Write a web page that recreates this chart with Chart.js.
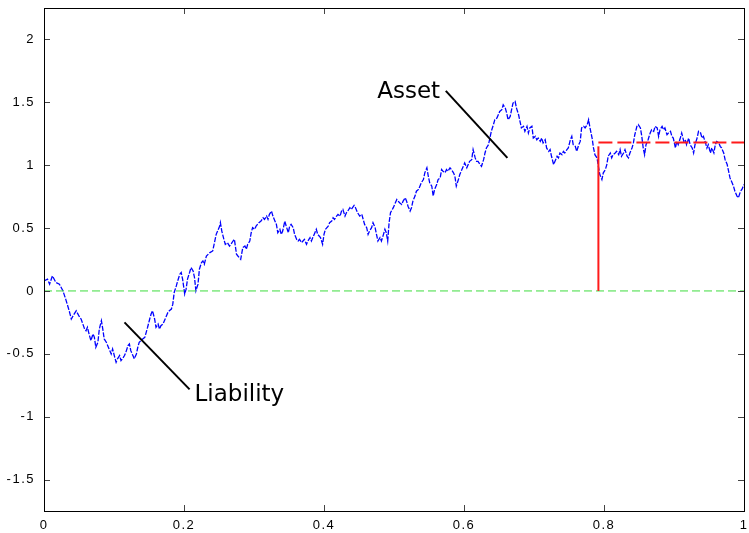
<!DOCTYPE html>
<html>
<head>
<meta charset="utf-8">
<script src="https://cdn.jsdelivr.net/npm/chart.js@4/dist/chart.umd.min.js"></script>
<style>
  html, body { margin: 0; padding: 0; background: #fff; }
  canvas { display: block; }
</style>
</head>
<body>
<canvas id="chart" width="749" height="533"></canvas>
<script>
// Asset value path, sampled as [time, value] pairs
const assetPathA = [
  [0.000,0.080],[0.005,0.094],[0.008,0.054],[0.012,0.120],[0.017,0.067],[0.022,0.054],[0.027,0.001],[0.031,-0.065],
  [0.036,-0.158],[0.039,-0.223],[0.043,-0.184],[0.046,-0.158],[0.051,-0.210],[0.053,-0.223],[0.058,-0.303],[0.060,-0.316],
  [0.062,-0.289],[0.065,-0.356],[0.067,-0.395],[0.070,-0.342],[0.072,-0.369],[0.074,-0.448],[0.077,-0.408],[0.079,-0.303],
  [0.082,-0.237],[0.084,-0.303],[0.086,-0.382],[0.089,-0.408],[0.093,-0.461],[0.096,-0.501],[0.098,-0.461],[0.101,-0.527],
  [0.103,-0.567],[0.105,-0.540],[0.108,-0.514],[0.110,-0.554],[0.112,-0.540],[0.115,-0.514],[0.117,-0.487],[0.120,-0.435],
  [0.122,-0.422],[0.124,-0.475],[0.127,-0.514],[0.129,-0.540],[0.132,-0.501],[0.134,-0.448],[0.136,-0.408],[0.141,-0.382],
  [0.144,-0.369],[0.146,-0.329],[0.148,-0.289],[0.151,-0.223],[0.153,-0.184],[0.155,-0.158],[0.158,-0.223],[0.160,-0.289],
  [0.163,-0.263],[0.165,-0.303],[0.167,-0.276],[0.170,-0.263],[0.172,-0.237],[0.175,-0.197],[0.177,-0.171],[0.179,-0.158],
  [0.182,-0.144],[0.184,-0.105],[0.186,-0.012],[0.189,0.040],[0.191,0.080],[0.194,0.133],[0.196,0.147],[0.198,0.094],
  [0.201,-0.025],[0.203,0.014],[0.205,0.094],[0.208,0.147],[0.210,0.186],[0.213,0.159],[0.215,0.107],[0.217,0.001],
  [0.220,0.054],[0.222,0.173],[0.225,0.226],[0.227,0.239],[0.229,0.212],[0.232,0.278],[0.237,0.305],[0.241,0.318]
];
const assetPathB = [
  [0.246,0.450],[0.248,0.476],[0.251,0.516],[0.252,0.543],[0.254,0.476],[0.257,0.410],[0.259,0.371],[0.262,0.384],
  [0.265,0.357],[0.267,0.371],[0.270,0.397],[0.272,0.410],[0.275,0.292],[0.277,0.278],[0.281,0.252],[0.284,0.345],
  [0.287,0.357],[0.289,0.331],[0.291,0.371],[0.294,0.397],[0.296,0.463],[0.298,0.503],[0.301,0.490],[0.303,0.516],
  [0.307,0.543],[0.310,0.555],[0.313,0.582],[0.315,0.569],[0.318,0.595],[0.320,0.569],[0.322,0.609],[0.325,0.635],
  [0.327,0.595],[0.330,0.555],[0.332,0.529],[0.334,0.463],[0.337,0.490],[0.339,0.450],[0.341,0.476],[0.344,0.555],
  [0.346,0.516],[0.349,0.463],[0.351,0.516],[0.353,0.529],[0.356,0.503],[0.358,0.450],[0.361,0.410],[0.363,0.397],
  [0.365,0.410],[0.368,0.384],[0.370,0.397],[0.372,0.410],[0.375,0.371],[0.377,0.397],[0.380,0.424],[0.382,0.397],
  [0.384,0.424],[0.387,0.463],[0.389,0.490],[0.391,0.450],[0.395,0.424],[0.398,0.371],[0.400,0.450],[0.402,0.490],
  [0.406,0.516],[0.408,0.543],[0.411,0.555],[0.413,0.582],[0.415,0.569],[0.418,0.595],[0.420,0.609],[0.423,0.595],
  [0.425,0.635],[0.427,0.648],[0.430,0.595],[0.432,0.622],[0.434,0.635],[0.437,0.662],[0.439,0.648],[0.443,0.680],
  [0.445,0.662],[0.448,0.622],[0.451,0.595],[0.454,0.609],[0.456,0.569],[0.458,0.529],[0.461,0.503],[0.463,0.450],
  [0.465,0.476],[0.468,0.503],[0.470,0.543],[0.473,0.503],[0.475,0.450],[0.477,0.397],[0.480,0.424],[0.482,0.397],
  [0.485,0.450],[0.487,0.490],[0.489,0.463],[0.491,0.397],[0.493,0.543],[0.495,0.622],[0.499,0.662],[0.501,0.688],
  [0.504,0.727]
];
const assetPathC = [
  [0.508,0.701],[0.511,0.688],[0.513,0.714],[0.516,0.741],[0.518,0.714],[0.520,0.674],[0.523,0.635],[0.525,0.662],
  [0.527,0.714],[0.530,0.754],[0.532,0.793],[0.535,0.807],[0.537,0.833],[0.539,0.860],[0.542,0.886],[0.544,0.939],
  [0.547,0.979],[0.549,0.912],[0.551,0.860],[0.554,0.833],[0.556,0.754],[0.558,0.807],[0.561,0.846],[0.563,0.886],
  [0.566,0.899],[0.568,0.965],[0.570,0.952],[0.573,0.939],[0.575,0.965],[0.577,0.952],[0.580,0.979],[0.582,0.965],
  [0.585,0.939],[0.587,0.912],[0.589,0.833],[0.592,0.886],[0.594,0.926],[0.597,0.965],[0.599,0.991],[0.601,1.018],
  [0.604,0.979],[0.606,1.005],[0.608,1.031],[0.611,1.044],[0.613,1.124],[0.616,1.058],[0.618,1.031],[0.620,1.031],
  [0.623,1.005],[0.625,0.991],[0.628,1.044],[0.630,1.097],[0.632,1.137],[0.635,1.163],[0.637,1.216],[0.639,1.269],
  [0.642,1.322],[0.644,1.361],[0.647,1.375],[0.649,1.401],[0.651,1.427],[0.654,1.441],[0.656,1.480],[0.659,1.454],
  [0.661,1.414],[0.663,1.361],[0.666,1.388],[0.668,1.441],[0.670,1.494],[0.673,1.507],[0.675,1.454],[0.678,1.401],
  [0.680,1.348],[0.682,1.296],[0.685,1.309],[0.687,1.269],[0.690,1.309],[0.692,1.256],[0.694,1.296],[0.697,1.309],
  [0.699,1.216],[0.702,1.229],[0.704,1.203],[0.706,1.216],[0.709,1.189],[0.711,1.216],[0.713,1.177],[0.716,1.203],
  [0.718,1.137],[0.721,1.110],[0.723,1.124],[0.725,1.071],[0.728,1.005],[0.730,1.031],[0.733,1.071],[0.735,1.058],
  [0.737,1.097],[0.740,1.084],[0.742,1.110],[0.744,1.097],[0.747,1.124],[0.749,1.137],[0.752,1.203],[0.754,1.229],
  [0.756,1.163],[0.759,1.150],[0.761,1.110],[0.764,1.163],[0.766,1.189]
];
const assetPathD = [
  [0.768,1.296],[0.771,1.309],[0.773,1.296],[0.776,1.322],[0.778,1.361],[0.780,1.296],[0.783,1.216],[0.785,1.137],
  [0.787,1.084],[0.790,1.058],[0.792,0.991],[0.794,0.926],[0.797,0.886],[0.799,0.939],[0.802,0.965],[0.804,1.005],
  [0.806,1.071],[0.809,1.097],[0.811,1.058],[0.813,1.084],[0.816,1.097],[0.818,1.110],[0.821,1.084],[0.823,1.124],
  [0.825,1.071],[0.828,1.097],[0.830,1.124],[0.833,1.071],[0.835,1.058],[0.837,1.097],[0.840,1.137],[0.842,1.177],
  [0.844,1.242],[0.847,1.309],[0.849,1.322],[0.852,1.296],[0.854,1.229],[0.856,1.137],[0.858,1.084],[0.860,1.163],
  [0.863,1.203],[0.866,1.256],[0.868,1.282],[0.871,1.269],[0.873,1.309],[0.876,1.296],[0.878,1.229],[0.880,1.282],
  [0.883,1.309],[0.885,1.282],[0.887,1.296],[0.890,1.242],[0.892,1.256],[0.895,1.269],[0.897,1.229],[0.899,1.216],
  [0.902,1.137],[0.904,1.189],[0.906,1.163],[0.909,1.216],[0.911,1.256],[0.914,1.189],[0.916,1.203],[0.918,1.163],
  [0.921,1.216],[0.923,1.163],[0.926,1.137],[0.928,1.097],[0.930,1.163],[0.933,1.216],[0.935,1.269],[0.938,1.256],
  [0.940,1.216],[0.942,1.229],[0.945,1.177],[0.947,1.137],[0.949,1.163],[0.952,1.097],[0.954,1.137],[0.957,1.097],
  [0.959,1.163],[0.961,1.189],[0.964,1.177],[0.966,1.150],[0.968,1.137],[0.971,1.097],[0.973,1.044],[0.976,1.005],
  [0.978,0.952],[0.980,0.899],[0.983,0.860],[0.985,0.833],[0.987,0.793],[0.990,0.754],[0.992,0.741],[0.995,0.793],
  [0.997,0.807],[1.000,0.846]
];

// Liability level, the time it is reached, and the zero baseline
const liabilityLevel = 1.18;
const hittingTime = 0.792;
const hittingMark = 1.15;
const baselineLevel = 0;

// Axis ranges and tick values
const xRange = [0, 1];
const yRange = [-1.75, 2.25];
const xTicks = [0, 0.2, 0.4, 0.6, 0.8, 1];
const yTicks = [-1.5, -1, -0.5, 0, 0.5, 1, 1.5, 2];

// Callout texts, anchors and leader lines, in data coordinates
const calloutTexts = ['Asset', 'Liability'];
const calloutAnchors = [[0.476, 1.532], [0.215, -0.872]];
const calloutLeaders = [
  [[0.574, 1.591], [0.662, 1.058]],
  [[0.115, -0.250], [0.208, -0.783]]
];

const toPoints = pairs => pairs.map(([x, y]) => ({ x, y }));
const assetPath = [...assetPathA, ...assetPathB, ...assetPathC, ...assetPathD];
const fmt = v => String(Number(v.toFixed(2)));

// Inward ticks on all four sides, plot frame and callout texts
const framePlugin = {
  id: 'frame',
  beforeDraw(chart) {
    // wider spacing for the tick numbers
    chart.ctx.letterSpacing = '1.5px';
  },
  afterDraw(chart) {
    const { ctx, chartArea: a, scales: { x, y } } = chart;
    ctx.save();
    ctx.letterSpacing = '0px';
    ctx.setLineDash([]);
    ctx.globalAlpha = 1;
    const L = Math.round(a.left), R = Math.round(a.right);
    const T = Math.round(a.top), B = Math.round(a.bottom);
    const tickLen = 6;
    ctx.fillStyle = '#444';
    xTicks.forEach(v => {
      const px = Math.round(x.getPixelForValue(v));
      ctx.fillRect(px, B - tickLen, 1, tickLen);
      ctx.fillRect(px, T, 1, tickLen);
    });
    yTicks.forEach(v => {
      const py = Math.round(y.getPixelForValue(v));
      ctx.fillRect(L, py, tickLen, 1);
      ctx.fillRect(R - tickLen, py, tickLen, 1);
    });
    ctx.fillStyle = '#000';
    ctx.fillRect(L, T, R - L + 1, 1);
    ctx.fillRect(L, B, R - L + 1, 1);
    ctx.fillRect(L, T, 1, B - T + 1);
    ctx.fillRect(R, T, 1, B - T + 1);

    ctx.font = '23px "DejaVu Sans"';
    ctx.textAlign = 'left';
    ctx.textBaseline = 'alphabetic';
    calloutTexts.forEach((txt, i) => {
      const [vx, vy] = calloutAnchors[i];
      ctx.fillText(txt, x.getPixelForValue(vx), y.getPixelForValue(vy));
    });
    ctx.restore();
  }
};

Chart.defaults.font.family = '"Liberation Sans", Arial, sans-serif';
Chart.defaults.color = '#000';

new Chart(document.getElementById('chart'), {
  type: 'scatter',
  data: {
    datasets: [
      {
        label: 'Asset',
        data: toPoints(assetPath),
        showLine: true,
        borderColor: '#0000ff',
        borderWidth: 1.3,
        borderDash: [5, 1.5],
        pointRadius: 0,
        tension: 0,
        order: 5
      },
      {
        label: 'Zero',
        data: toPoints([[xRange[0], baselineLevel], [xRange[1], baselineLevel]]),
        showLine: true,
        borderColor: '#3fdc3f',
        borderWidth: 1,
        borderDash: [8, 4],
        pointRadius: 0,
        order: 4
      },
      {
        label: 'Liability level',
        data: toPoints([[hittingTime, liabilityLevel], [xRange[1], liabilityLevel]]),
        showLine: true,
        borderColor: '#ff1a1a',
        borderWidth: 2,
        borderDash: [14, 5],
        pointRadius: 0,
        order: 3
      },
      {
        label: 'Hitting time',
        data: toPoints([[hittingTime, baselineLevel], [hittingTime, hittingMark]]),
        showLine: true,
        borderColor: '#ff1a1a',
        borderWidth: 2,
        pointRadius: 0,
        order: 2
      },
      ...calloutLeaders.map((seg, i) => ({
        label: calloutTexts[i] + ' leader',
        data: toPoints(seg),
        showLine: true,
        borderColor: '#000',
        borderWidth: 2,
        pointRadius: 0,
        order: 1
      }))
    ]
  },
  options: {
    responsive: false,
    animation: false,
    layout: { padding: { top: 8, right: 5, left: 0, bottom: 0 } },
    plugins: { legend: { display: false }, tooltip: { enabled: false } },
    scales: {
      x: {
        type: 'linear',
        min: xRange[0], max: xRange[1],
        grid: { display: false, drawTicks: false },
        border: { display: false },
        afterBuildTicks: s => { s.ticks = xTicks.map(value => ({ value })); },
        ticks: { padding: 7, maxRotation: 0, autoSkip: false, font: { size: 13 }, callback: v => fmt(v) },
        afterFit: s => { s.height = 22; s.paddingLeft = 0; s.paddingRight = 0; }
      },
      y: {
        type: 'linear',
        min: yRange[0], max: yRange[1],
        grid: { display: false, drawTicks: false },
        border: { display: false },
        afterBuildTicks: s => { s.ticks = yTicks.map(value => ({ value })); },
        ticks: { padding: 9, autoSkip: false, font: { size: 13 }, callback: v => fmt(v) },
        afterFit: s => { s.width = 44; s.paddingTop = 0; s.paddingBottom = 0; }
      }
    }
  },
  plugins: [framePlugin]
});
</script>
</body>
</html>
